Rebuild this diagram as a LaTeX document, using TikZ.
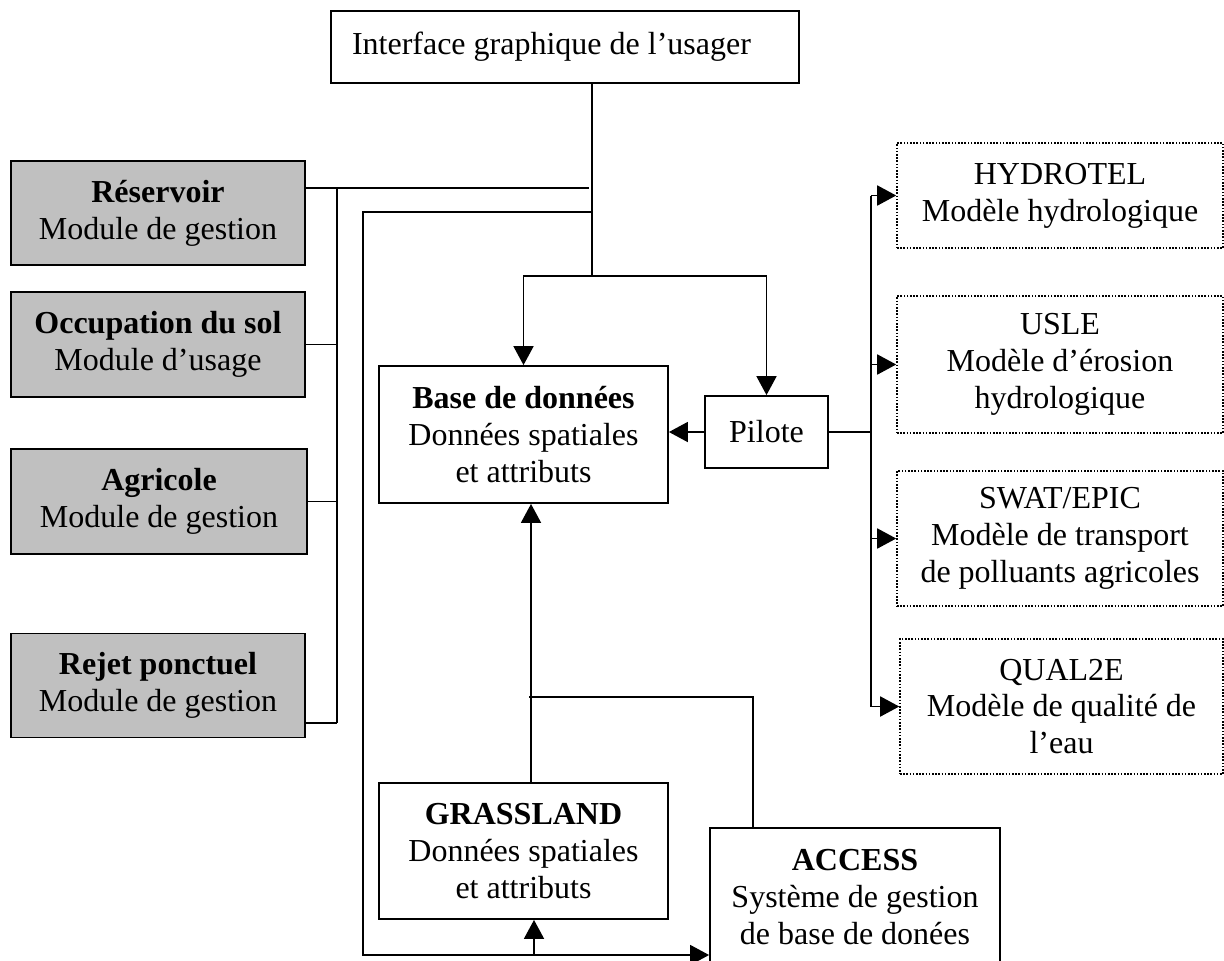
\documentclass[tikz,border=0pt]{standalone}
\usepackage{fontspec}
\setmainfont{Liberation Serif}
\usepackage{xcolor}
\usetikzlibrary{arrows.meta}
\definecolor{modgray}{HTML}{C0C0C0}

\begin{document}
\begin{tikzpicture}[x=0.5pt, y=-0.5pt,
        every node/.style={font=\fontsize{16pt}{18.4pt}\selectfont, inner sep=0pt, align=center},
        plainbox/.style={draw, line width=0.9pt, fill=white},
        modbox/.style={draw, line width=0.9pt, fill=modgray},
        simbox/.style={draw, line width=0.8pt, dash pattern=on 0.8pt off 0.8pt},
        link/.style={line width=0.9pt},
        arr/.style={line width=0.9pt, -{Triangle[length=9.5pt, width=10pt]}}]
        \useasboundingbox (0,0) rectangle (1224,960);

        % ----------------------------------------------------
        % INTERFACE
        % ----------------------------------------------------
        \node[plainbox, minimum width=234pt, minimum height=36pt, text width=213pt, align=flush left] (ui) at (565,47) {Interface graphique de l’usager};

        % ----------------------------------------------------
        % MODULES (gray)
        % ----------------------------------------------------
        \node[modbox, minimum width=147pt, minimum height=52pt] (res) at (158,213) {\textbf{Réservoir}\\Module de gestion};
        \node[modbox, minimum width=147pt, minimum height=52.5pt] (occ) at (158,344.5) {\textbf{Occupation du sol}\\Module d’usage};
        \node[modbox, minimum width=148pt, minimum height=52.5pt] (agr) at (159,501.5) {\textbf{Agricole}\\Module de gestion};
        \node[modbox, minimum width=147pt, minimum height=52pt] (rej) at (158,685.5) {\textbf{Rejet ponctuel}\\Module de gestion};

        % ----------------------------------------------------
        % DATA
        % ----------------------------------------------------
        \node[plainbox, minimum width=144.5pt, minimum height=68.5pt] (base) at (523.5,434.5) {\textbf{Base de données}\\Données spatiales\\et attributs};
        \node[plainbox, minimum width=61.5pt, minimum height=36pt] (pil) at (766.5,432) {Pilote};
        \node[plainbox, minimum width=144.5pt, minimum height=68pt] (gras) at (523.5,851) {\textbf{GRASSLAND}\\Données spatiales\\et attributs};
        \node[plainbox, minimum width=145pt, minimum height=69pt] (acc) at (855,897) {\textbf{ACCESS}\\Système de gestion\\de base de donées};

        % ----------------------------------------------------
        % MODELS (dotted)
        % ----------------------------------------------------
        \node[simbox, minimum width=163pt, minimum height=52.5pt] (hyd) at (1060,195.5) {HYDROTEL\\Modèle hydrologique};
        \node[simbox, minimum width=163pt, minimum height=68.5pt] (usle) at (1060,364.5) {USLE\\Modèle d’érosion\\hydrologique};
        \node[simbox, minimum width=163pt, minimum height=67.5pt] (swat) at (1060,538.5) {SWAT/EPIC\\Modèle de transport\\de polluants agricoles};
        \node[simbox, minimum width=161.5pt, minimum height=67.5pt] (qual) at (1061.5,706.5) {QUAL2E\\Modèle de qualité de\\l’eau};

        % ----------------------------------------------------
        % LINKS
        % ----------------------------------------------------
        \coordinate (lbtop) at (337,188);
        \coordinate (lbbot) at (337,723);
        \coordinate (resend) at (589,188);
        \coordinate (hub) at (592,276);
        \coordinate (bustop) at (592,212);
        \coordinate (busbot) at (363,955);
        \coordinate (gjoin) at (534,955);
        \coordinate (accturn) at (753,697);
        \coordinate (accend) at (529,697);
        \coordinate (rbus) at (871,432);

        % left bracket
        \draw[link] (res.east |- lbtop) -- (resend);
        \draw[link] (lbtop) -- (lbbot);
        \draw[link] (occ.east) -- (occ.east -| lbtop);
        \draw[link] (agr.east) -- (agr.east -| lbtop);
        \draw[link] (rej.east |- lbbot) -- (lbbot);

        % interface down to base and pilote
        \draw[link] (ui.south -| hub) -- (hub);
        \draw[arr] (hub) -| (base.north);
        \draw[arr] (hub) -| (pil.north);

        % bus round to access and grassland
        \draw[arr] (bustop) -| (busbot) -- (acc.west |- busbot);
        \draw[arr] (gjoin) -- (gjoin |- gras.south);
        \draw[arr] ([xshift=3.75pt]gras.north) -- ([xshift=3.75pt]base.south);
        \draw[link] (accturn |- acc.north) -- (accturn) -- (accend);

        % pilote
        \draw[arr] (pil.west) -- (pil.west -| base.east);
        \draw[link] (pil.east) -- (rbus);
        \draw[link] (rbus |- hyd.west) -- (rbus |- qual.west);
        \foreach \m in {hyd,usle,swat,qual}
            \draw[arr] (rbus |- \m.west) -- (\m.west);
    \end{tikzpicture}
\end{document}
